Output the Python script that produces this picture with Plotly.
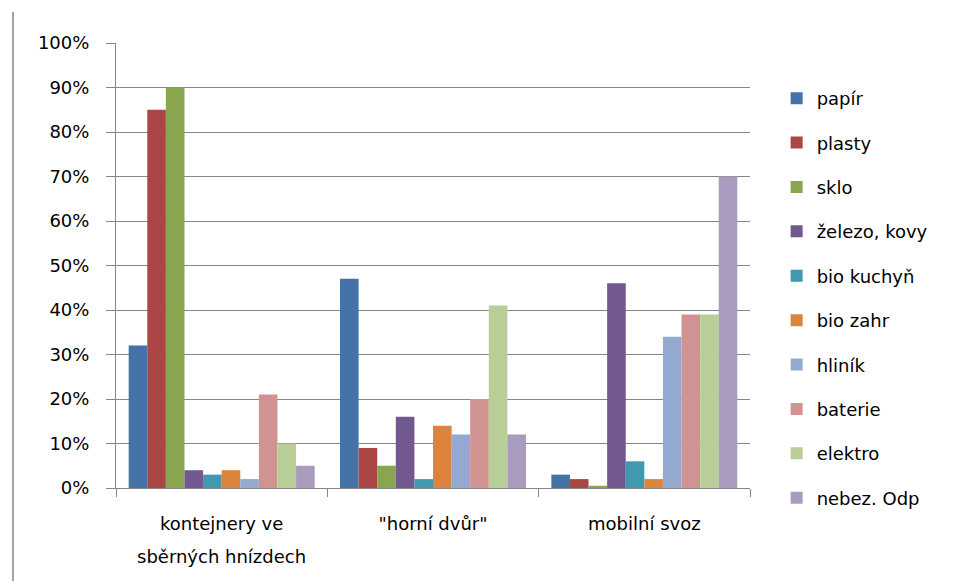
import plotly.graph_objects as go

categories = ["kontejnery ve", "\"horní dvůr\"", "mobilní svoz"]
category_second_line = "sběrných hnízdech"
series_names = ["papír", "plasty", "sklo", "železo, kovy", "bio kuchyň", "bio zahr",
                "hliník", "baterie", "elektro", "nebez. Odp"]
values = {
    "papír":        [32, 47, 3],
    "plasty":       [85, 9, 2],
    "sklo":         [90, 5, 0.5],
    "železo, kovy": [4, 16, 46],
    "bio kuchyň":   [3, 2, 6],
    "bio zahr":     [4, 14, 2],
    "hliník":       [2, 12, 34],
    "baterie":      [21, 20, 39],
    "elektro":      [10, 41, 39],
    "nebez. Odp":   [5, 12, 70],
}
colors = ["#4572A7", "#AA4643", "#89A54E", "#71588F", "#4198AF", "#DB843D",
          "#93A9CF", "#D19392", "#B9CD96", "#A99BBD"]
y_ticks = [0, 10, 20, 30, 40, 50, 60, 70, 80, 90, 100]
y_ticklabels = [f"{v}%" for v in y_ticks]

FONT = "DejaVu Sans"
FS = 18
fig = go.Figure()
for name, col in zip(series_names, colors):
    fig.add_trace(go.Bar(name=name, x=categories, y=values[name], marker_color=col,
                         marker_line_width=0, legendgroup=name))

fig.update_layout(
    width=959, height=581,
    margin=dict(l=116, r=209, t=43, b=93, autoexpand=False),
    paper_bgcolor="white", plot_bgcolor="white",
    barmode="group", bargap=0.12, bargroupgap=0,
    font=dict(family=FONT, size=FS, color="#000000"),
    legend=dict(x=1.042, xanchor="left", y=0.917, yanchor="top",
                font=dict(family=FONT, size=FS), tracegroupgap=18,
                bgcolor="rgba(0,0,0,0)"),
    xaxis=dict(type="category", showline=True, linecolor="#868686", linewidth=1,
               ticks="outside", tickson="boundaries", ticklen=8, tickcolor="#868686",
               showgrid=False, tickfont=dict(family=FONT, size=FS), ticklabelstandoff=19),
    yaxis=dict(range=[0, 100], tickvals=y_ticks, ticktext=y_ticklabels,
               showline=True, linecolor="#868686", linewidth=1,
               ticks="outside", ticklen=9, tickcolor="#868686",
               showgrid=True, gridcolor="#868686", gridwidth=1,
               zeroline=False, tickfont=dict(family=FONT, size=FS), ticklabelstandoff=13),
    shapes=[dict(type="line", xref="paper", yref="paper", x0=-0.1625, x1=-0.1625,
                 y0=-0.21, y1=1.07, line=dict(color="#868686", width=1.5))],
    annotations=[dict(text=category_second_line, xref="x", x=categories[0],
                      yref="paper", y=(488 - 556) / 445, yanchor="middle",
                      showarrow=False, font=dict(family=FONT, size=FS))],
)
fig.write_html("out.html", config={"displayModeBar": False},
               post_script="document.body.style.margin='0';")
